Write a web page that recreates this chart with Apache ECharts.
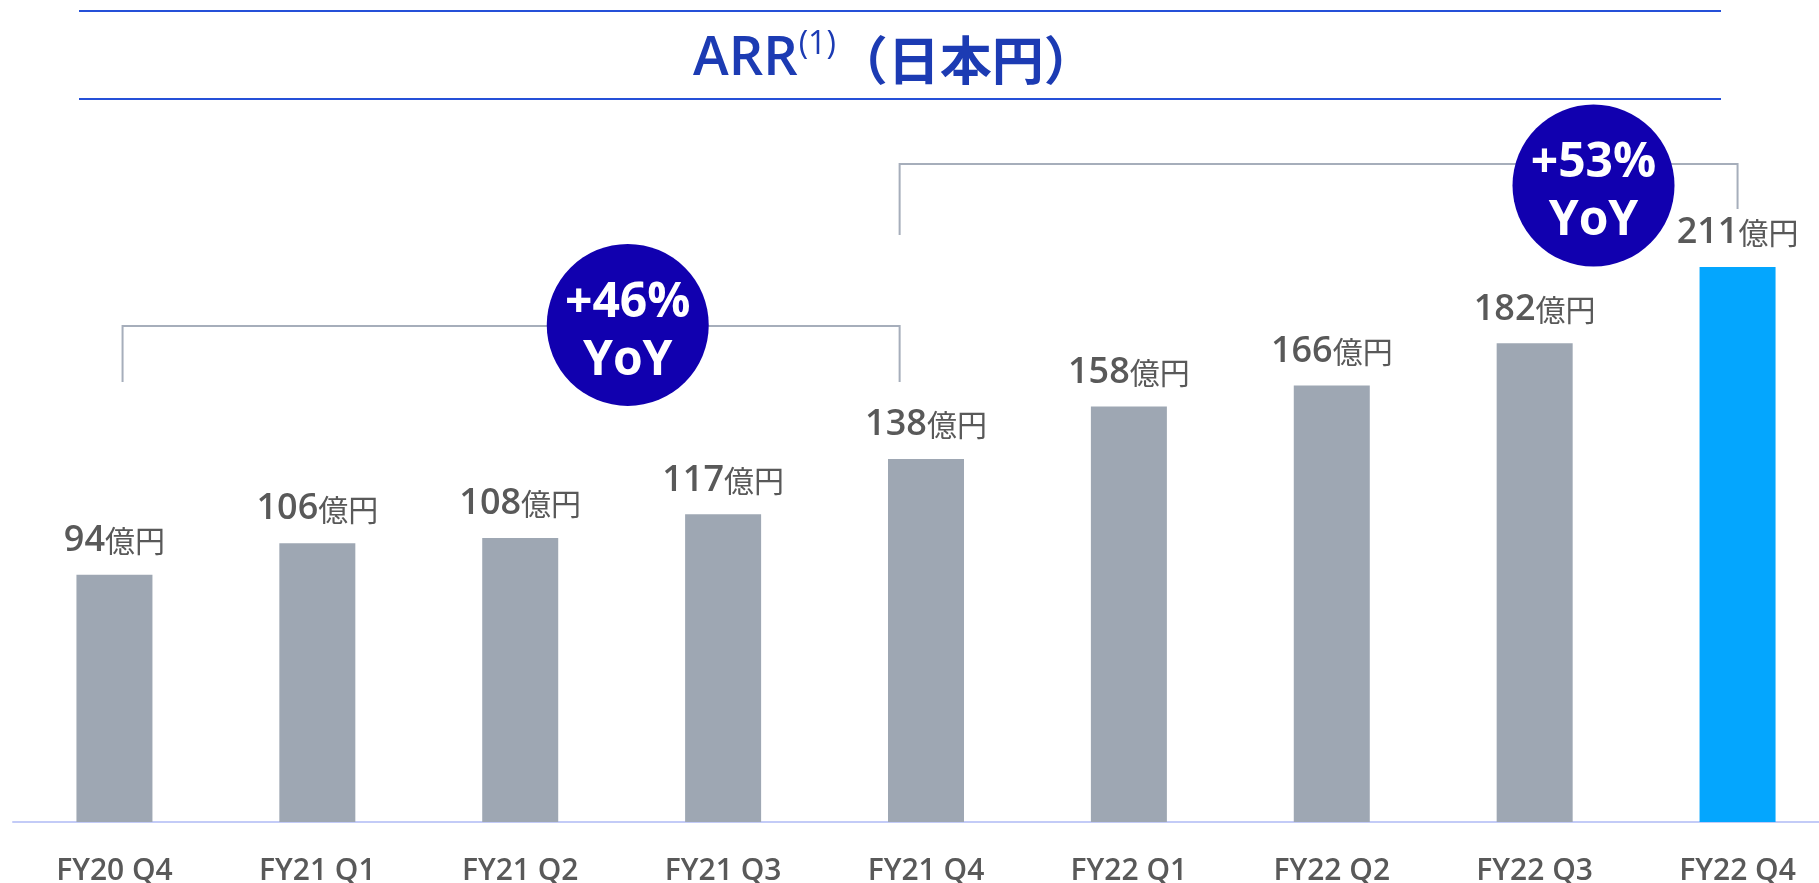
<!DOCTYPE html>
<html>
<head>
<meta charset="utf-8">
<script src="https://cdn.jsdelivr.net/npm/echarts@6/dist/echarts.min.js"></script>
<style>
html,body{margin:0;padding:0;background:#fff;}
#chart{width:1819px;height:883px;}
</style>
</head>
<body>
<div id="chart"></div>
<script>
const categories = ['FY20 Q4','FY21 Q1','FY21 Q2','FY21 Q3','FY21 Q4','FY22 Q1','FY22 Q2','FY22 Q3','FY22 Q4'];
const arrValues = [94, 106, 108, 117, 138, 158, 166, 182, 211];
const unitText = '億円';
const titleMain = 'ARR';
const titleSup = '(1)';
const titleTail = '（日本円）';
const growthRates = ['+46%', '+53%'];
const growthSub = 'YoY';

const LATIN = '"Open Sans", "Noto Sans CJK JP", sans-serif';
const CJK = '"Noto Sans CJK JP", "Open Sans", sans-serif';
const GREY_TEXT = '#595959';

const chart = echarts.init(document.getElementById('chart'), null, {renderer: 'canvas'});

const option = {
  animation: false,
  backgroundColor: '#ffffff',
  title: {
    text: '{a|' + titleMain + '}{s|' + titleSup + '}{b|' + titleTail + '}',
    left: 688,
    top: 20,
    textStyle: {
      rich: {
        a: {fontFamily: LATIN, fontSize: 54, fontWeight: 600, color: '#1c3bb3', lineHeight: 70},
        s: {fontFamily: LATIN, fontSize: 32, fontWeight: 500, color: '#1c3bb3', lineHeight: 70, verticalAlign: 'top', padding: [4, 0, 0, 1]},
        b: {fontFamily: CJK, fontSize: 52, fontWeight: 700, color: '#1c3bb3', lineHeight: 70}
      }
    }
  },
  grid: {left: 13, width: 1826, top: 164.5, bottom: 61, containLabel: false, outerBoundsMode: 'none'},
  xAxis: {
    type: 'category',
    data: categories,
    axisLine: {show: true, lineStyle: {color: '#c3cbf7', width: 2}},
    axisTick: {show: false},
    axisLabel: {fontFamily: LATIN, fontSize: 30, fontWeight: 600, color: GREY_TEXT, margin: 34}
  },
  yAxis: {type: 'value', min: 0, max: 250, show: false, splitLine: {show: false}},
  series: [{
    type: 'bar',
    data: arrValues,
    barWidth: 76,
    itemStyle: {
      color: function (p) { return p.dataIndex === arrValues.length - 1 ? '#04a6fe' : '#9ea7b3'; }
    },
    label: {
      show: true,
      position: 'top',
      distance: 14,
      formatter: function (p) { return '{n|' + p.value + '}{u|' + unitText + '}'; },
      rich: {
        n: {fontFamily: LATIN, fontSize: 36, fontWeight: 600, color: GREY_TEXT, lineHeight: 40},
        u: {fontFamily: CJK, fontSize: 30, fontWeight: 400, color: GREY_TEXT, lineHeight: 40}
      }
    }
  }]
};
chart.setOption(option);

function drawAnnotations() {
  const x0 = chart.convertToPixel({xAxisIndex: 0}, categories[0]);
  const x1 = chart.convertToPixel({xAxisIndex: 0}, categories[1]);
  const step = x1 - x0;
  const xAt = k => x0 + step * k;
  const yAt = v => chart.convertToPixel({yAxisIndex: 0}, v);
  const LINE = {stroke: '#a6aebb', lineWidth: 2, fill: null};
  const brackets = [
    {l: 0.04, r: 3.87, top: 188.6, lb: 167.3, rb: 167.3, ck: 2.53, cv: 189, txt: growthRates[0]},
    {l: 3.87, r: 8.0, top: 250.2, lb: 223.2, rb: 233.1, ck: 7.29, cv: 242, txt: growthRates[1]}
  ];
  const els = [
    {type: 'line', shape: {x1: 79, y1: 11, x2: 1721, y2: 11}, style: {stroke: '#2550d8', lineWidth: 2}},
    {type: 'line', shape: {x1: 79, y1: 99, x2: 1721, y2: 99}, style: {stroke: '#2550d8', lineWidth: 2}}
  ];
  brackets.forEach(b => {
    const xl = xAt(b.l), xr = xAt(b.r), yt = yAt(b.top);
    els.push({type: 'polyline', shape: {points: [[xl, yAt(b.lb)], [xl, yt], [xr, yt], [xr, yAt(b.rb)]]}, style: LINE, z: 5});
    const cx = xAt(b.ck), cy = yAt(b.cv);
    els.push({type: 'circle', shape: {cx: cx, cy: cy, r: 81}, style: {fill: '#1100af'}, z: 10});
    els.push({type: 'text', x: cx, y: cy - 22, z: 11, style: {text: b.txt, fill: '#ffffff', font: '700 48px ' + LATIN, textAlign: 'center', textVerticalAlign: 'middle'}});
    els.push({type: 'text', x: cx, y: cy + 36, z: 11, style: {text: growthSub, fill: '#ffffff', font: '700 48px ' + LATIN, textAlign: 'center', textVerticalAlign: 'middle'}});
  });
  chart.setOption({graphic: {elements: els}});
}
drawAnnotations();
</script>
</body>
</html>
